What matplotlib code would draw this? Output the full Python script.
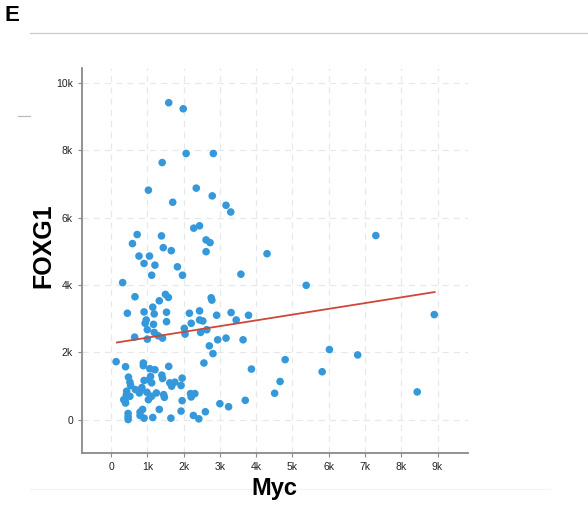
import numpy as np
import matplotlib
matplotlib.use("Agg")
import matplotlib.pyplot as plt
from matplotlib.ticker import FuncFormatter, MultipleLocator
from matplotlib.lines import Line2D

plt.rcParams['font.family'] = ['Liberation Sans', 'DejaVu Sans']

# Myc (x) and FOXG1 (y) expression, in thousands
myc_k = [0.77, 1.06, 0.91, 1.21, 1.12, 1.66, 1.83, 1.97, 2.62, 4.30, 3.58,
         0.32, 0.66, 0.45, 1.33, 1.50, 1.58, 1.15, 0.91, 1.19, 1.53, 1.53,
         0.97, 0.94, 1.17, 1.00, 1.19, 1.30, 1.42, 1.00, 0.65, 2.16, 2.44,
         2.44, 2.53, 2.21, 2.02, 2.04, 2.47, 2.64, 2.76, 2.78, 2.91, 3.31,
         3.45, 3.79, 2.71, 2.94, 3.17, 2.81, 3.64, 2.56, 3.87, 0.14, 0.40,
         0.89, 0.89, 1.07, 1.21, 1.59, 0.48, 0.52, 0.54, 1.09, 1.05, 1.12,
         1.40, 1.42, 0.91, 1.62, 1.76, 1.67, 1.96, 1.93, 0.67, 0.80, 0.85,
         0.78, 0.43, 0.52, 0.42, 0.35, 0.39, 0.40, 0.99, 1.03, 1.12, 1.25,
         1.45, 1.47, 2.19, 2.31, 2.21, 1.96, 3.00, 3.24, 3.70, 1.33, 1.93,
         2.60, 2.27, 2.42, 1.65, 1.15, 0.91, 0.80, 0.80, 0.87, 0.47, 0.47,
         0.47, 4.51, 4.66, 5.38, 8.91, 6.02, 6.80, 4.80, 5.82, 8.44,
         1.59, 1.99, 2.07, 2.82, 1.41, 1.03, 2.35, 2.79, 1.70, 3.17, 3.30,
         2.28, 2.44, 0.72, 0.59, 1.39, 1.44, 2.73, 2.62, 7.30]
foxg1_k = [4.86, 4.86, 4.64, 4.59, 4.29, 5.02, 4.54, 4.29, 4.99, 4.93, 4.32,
           4.07, 3.65, 3.16, 3.53, 3.72, 3.63, 3.34, 3.20, 3.14, 3.19, 2.91,
           2.96, 2.86, 2.83, 2.67, 2.59, 2.49, 2.42, 2.39, 2.45, 3.16, 3.23,
           2.96, 2.93, 2.86, 2.71, 2.54, 2.59, 2.67, 3.62, 3.55, 3.10, 3.18,
           2.96, 3.10, 2.19, 2.37, 2.42, 1.96, 2.37, 1.68, 1.50, 1.72, 1.57,
           1.68, 1.60, 1.51, 1.48, 1.58, 1.26, 1.11, 1.01, 1.28, 1.18, 1.09,
           1.32, 1.22, 1.16, 1.09, 1.11, 0.99, 1.23, 1.01, 0.89, 0.84, 0.95,
           0.79, 0.84, 0.69, 0.73, 0.59, 0.54, 0.49, 0.81, 0.59, 0.69, 0.79,
           0.74, 0.66, 0.77, 0.77, 0.67, 0.56, 0.47, 0.38, 0.57, 0.30, 0.25,
           0.23, 0.12, 0.02, 0.04, 0.06, 0.04, 0.12, 0.22, 0.30, 0.18, 0.08,
           0.00, 0.78, 1.13, 3.99, 3.12, 2.08, 1.92, 1.78, 1.42, 0.82,
           9.42, 9.24, 7.91, 7.91, 7.64, 6.82, 6.88, 6.65, 6.46, 6.37, 6.17,
           5.69, 5.76, 5.50, 5.23, 5.46, 5.11, 5.26, 5.34, 5.47]

# regression line end points (thousands)
fit_x_k = [0.16, 8.92]
fit_y_k = [2.29, 3.79]

myc = np.array(myc_k) * 1000
foxg1 = np.array(foxg1_k) * 1000
fit_x = np.array(fit_x_k) * 1000
fit_y = np.array(fit_y_k) * 1000

fig = plt.figure(figsize=(5.88, 5.08), dpi=100)

# faint frame remnants behind everything
fig.add_artist(Line2D([30 / 588, 1], [1 - 33 / 508] * 2, color='#cccccc', lw=0.9, zorder=0))
fig.add_artist(Line2D([18 / 588, 30 / 588], [1 - 116 / 508] * 2, color='#bbbbbb', lw=0.9, zorder=0))
fig.add_artist(Line2D([30 / 588, 550 / 588], [1 - 489 / 508] * 2, color='#f3f3f3', lw=0.8, zorder=0))

ax = fig.add_axes([0.1395, 0.108, 0.657, 0.758])

ax.scatter(myc, foxg1, s=30, color='#3498db', edgecolors='none', zorder=3)
ax.plot(fit_x, fit_y, color='#d0463a', lw=1.3, zorder=4)

ax.set_xlim(-800, 9850)
ax.set_ylim(-1000, 10450)
ax.xaxis.set_major_locator(MultipleLocator(1000))
ax.yaxis.set_major_locator(MultipleLocator(2000))
kfmt = FuncFormatter(lambda v, p: '0' if v == 0 else f'{int(round(v / 1000))}k')
ax.xaxis.set_major_formatter(kfmt)
ax.yaxis.set_major_formatter(kfmt)

ax.grid(True, color='#e6e9ec', ls=(0, (5, 4)), lw=0.9, zorder=0)
for s in ['top', 'right']:
    ax.spines[s].set_visible(False)
for s in ['left', 'bottom']:
    ax.spines[s].set_color('#8a8a8a')
    ax.spines[s].set_linewidth(1.3)
ax.tick_params(colors='#8a8a8a', length=3, width=0.8, labelsize=7.5,
               labelcolor='#222222')

ax.set_xlabel('Myc', fontsize=17, fontweight='bold')
ax.set_ylabel('FOXG1', fontsize=18, fontweight='bold')
ax.xaxis.set_label_coords(0.497, -0.063)
ax.yaxis.set_label_coords(-0.07, 0.54)

fig.text(0.008, 0.99, 'E', fontsize=16, fontweight='bold', va='top', ha='left')

fig.savefig('out.png', dpi=100)
